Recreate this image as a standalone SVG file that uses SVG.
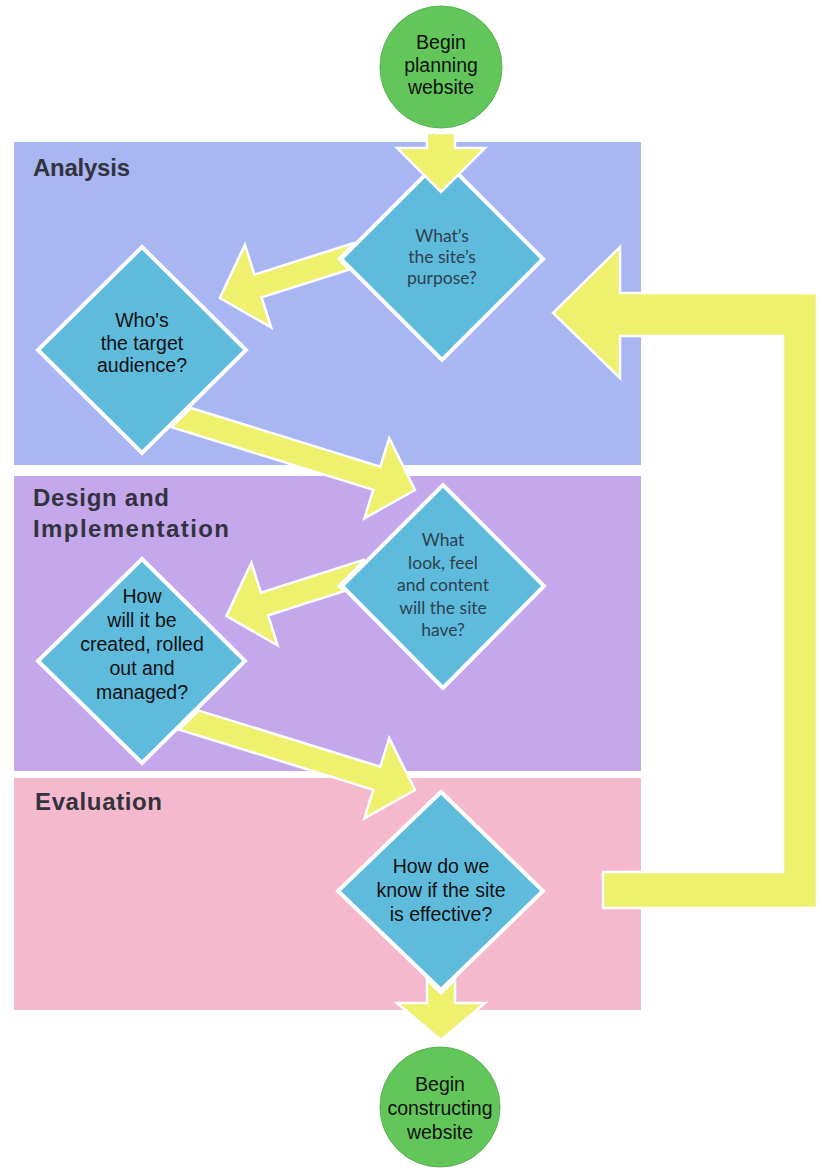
<svg xmlns="http://www.w3.org/2000/svg" width="822" height="1172" viewBox="0 0 822 1172">
<style>
.band-label{font-family:"Liberation Sans",Arial,sans-serif;font-weight:bold;font-size:24px;fill:#33333d}
.dia{fill:#5fbbdc;stroke:#ffffff;stroke-width:4;stroke-linejoin:miter}
.term{fill:#63c65a;stroke:#55b24e;stroke-width:1}
.t-arial{font-family:"Liberation Sans",Arial,sans-serif;font-size:19.5px;fill:#111111;text-anchor:middle}
.t-myriad{font-family:Lato,"Open Sans",sans-serif;font-size:17.5px;fill:#2d4150;text-anchor:middle}
.arrow{fill:#eef06e;stroke:#ffffff;stroke-width:2.5;stroke-linejoin:miter}
</style>
<rect width="822" height="1172" fill="#ffffff"/>

<g id="band-analysis">
  <rect x="14" y="142" width="627" height="323" fill="#a8b6f2"/>
  <text class="band-label" x="33" y="176" textLength="97" lengthAdjust="spacing">Analysis</text>
</g>
<g id="band-design">
  <rect x="14" y="476" width="627" height="295" fill="#c5a7ec"/>
  <text class="band-label" x="33" y="506" textLength="136" lengthAdjust="spacing">Design and</text>
  <text class="band-label" x="33" y="537" textLength="196" lengthAdjust="spacing">Implementation</text>
</g>
<g id="band-evaluation">
  <rect x="14" y="778" width="627" height="232" fill="#f5b9cd"/>
  <text class="band-label" x="35" y="810" textLength="127" lengthAdjust="spacing">Evaluation</text>
</g>

<g id="start">
  <circle class="term" cx="441" cy="67" r="61"/>
  <text class="t-arial"><tspan x="441" y="49">Begin</tspan><tspan x="441" y="71.5">planning</tspan><tspan x="441" y="94">website</tspan></text>
</g>

<g id="purpose">
  <polygon class="dia" points="442,158 543,259 442,360 341,259"/>
  <text class="t-myriad"><tspan x="442" y="242">What’s</tspan><tspan x="442" y="263">the site’s</tspan><tspan x="442" y="284">purpose?</tspan></text>
</g>

<g id="audience">
  <polygon class="dia" points="142,247 246,350 142,453 38,350"/>
  <text class="t-arial"><tspan x="142" y="327">Who's</tspan><tspan x="142" y="349.5">the target</tspan><tspan x="142" y="372">audience?</tspan></text>
</g>

<g id="look">
  <polygon class="dia" points="443,485 544,586 443,688 342,586"/>
  <text class="t-myriad"><tspan x="443" y="546">What</tspan><tspan x="443" y="568.5">look, feel</tspan><tspan x="443" y="591">and content</tspan><tspan x="443" y="613.5">will the site</tspan><tspan x="443" y="636">have?</tspan></text>
</g>

<g id="created">
  <polygon class="dia" points="142,559 245,661 142,763 38,661"/>
  <text class="t-arial"><tspan x="142" y="603">How</tspan><tspan x="142" y="627">will it be</tspan><tspan x="142" y="651">created, rolled</tspan><tspan x="142" y="675">out and</tspan><tspan x="142" y="699">managed?</tspan></text>
</g>

<g id="effective">
  <polygon class="dia" points="441,792 543,891 441,990 338,891"/>
  <text class="t-arial"><tspan x="441" y="873">How do we</tspan><tspan x="441" y="897">know if the site</tspan><tspan x="441" y="921">is effective?</tspan></text>
</g>

<g id="end">
  <circle class="term" cx="440" cy="1107" r="60"/>
  <text class="t-arial"><tspan x="440" y="1091">Begin</tspan><tspan x="440" y="1115">constructing</tspan><tspan x="440" y="1139">website</tspan></text>
</g>

<g id="connectors">
  <polygon class="arrow" points="427,133 455,133 455,148 485,148 441,192 397,148 427,148"/>
  <polygon class="arrow" points="354.8,242.7 254.4,274.6 244.9,244.7 219.9,298.1 271.1,327.3 261.6,297.4 349.1,269.6 338.5,259"/>
  <polygon class="arrow" points="190.9,408 380.3,466.7 389.2,438.1 415,490 364.4,518.3 373.3,489.7 171.5,427.2"/>
  <polygon class="arrow" points="365.1,559.4 260.9,592.6 251.4,562.7 226.4,616.1 277.6,645.3 268.1,615.4 343.8,591.3 338.5,586"/>
  <polygon class="arrow" points="198.7,710.6 380.3,766.7 389.2,738.1 415,790 364.4,818.3 373.3,789.7 179.3,729.6"/>
  <polygon class="arrow" points="427,979.5 441,993.5 455,979.5 455,1003 485,1003 441,1040 397,1003 427,1003"/>
  <polygon class="arrow" points="603,872 783,872 783,336 620,336 620,378 553,313 620,247 620,293 817,293 817,908 603,908"/>
</g>
</svg>
